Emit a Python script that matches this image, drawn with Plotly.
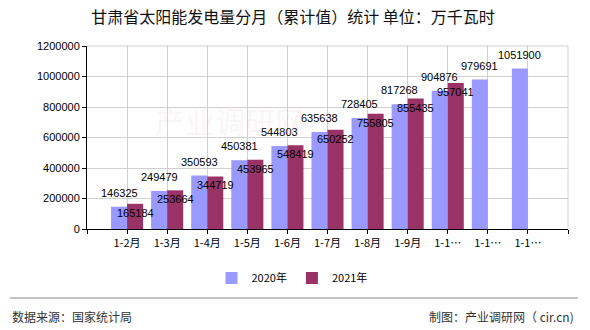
import plotly.graph_objects as go

categories = ["1-2月", "1-3月", "1-4月", "1-5月", "1-6月", "1-7月", "1-8月", "1-9月", "1-10月", "1-11月", "1-12月"]
tick_labels = ["1-2月", "1-3月", "1-4月", "1-5月", "1-6月", "1-7月", "1-8月", "1-9月", "1-1…", "1-1…", "1-1…"]
values_2020 = [146325, 249479, 350593, 450381, 544803, 635638, 728405, 817268, 904876, 979691, 1051900]
values_2021 = [165184, 253664, 344719, 453965, 548419, 650252, 755805, 855435, 957041]
y_ticks = [0, 200000, 400000, 600000, 800000, 1000000, 1200000]

W, H = 590, 330
L, R, T, B = 87, 22, 46, 101
pw = W - L - R
ph = H - T - B

def px(x):
    return (x - L) / pw

def py(y):
    return (H - B - y) / ph

font_cn = "Noto Sans CJK SC, DejaVu Sans, sans-serif"
font_num = "Liberation Sans, Arial, sans-serif"

x20 = list(range(len(values_2020)))
x21 = list(range(len(values_2021)))

fig = go.Figure()
fig.add_trace(go.Bar(x=x20, y=values_2020, name="2020年", marker_color="#9999ff",
                     marker_line_width=0, offsetgroup="a"))
fig.add_trace(go.Bar(x=x21, y=values_2021, name="2021年", marker_color="#993366",
                     marker_line_width=0, offsetgroup="b"))

for i, v in zip(x20, values_2020):
    fig.add_annotation(x=i - 0.2, y=v, text=str(v), showarrow=False, xanchor="center",
                       yanchor="bottom", yshift=6,
                       font=dict(size=11, color="#000000", family=font_num))
for i, v in zip(x21, values_2021):
    fig.add_annotation(x=i + 0.2, y=v, text=str(v), showarrow=False, xanchor="center",
                       yanchor="middle", yshift=-9,
                       font=dict(size=11, color="#000000", family=font_num))

tickvals = list(range(-1, len(categories) + 1))
ticktext = [""] + tick_labels + [""]

fig.update_layout(
    width=W, height=H,
    margin=dict(l=L, r=R, t=T, b=B, pad=0),
    paper_bgcolor="#ffffff", plot_bgcolor="#ffffff",
    font=dict(family=font_cn, size=11, color="#000000"),
    barmode="group", bargap=0.2, bargroupgap=0,
    title=dict(text="甘肃省太阳能发电量分月（累计值）统计 单位：万千瓦时",
               x=px(293), xref="paper", xanchor="center", y=1 - 17 / H, yanchor="middle",
               font=dict(size=16, color="#111111", family=font_cn)),
    xaxis=dict(range=[-1, len(categories)], tickmode="array", tickvals=tickvals, ticktext=ticktext,
               showgrid=True, gridcolor="#d0d0d0", gridwidth=1,
               showline=True, linecolor="#000000", linewidth=1,
               ticks="outside", ticklen=4, tickcolor="#000000",
               tickfont=dict(size=11, family=font_cn, color="#000000"),
               zeroline=False, fixedrange=True),
    yaxis=dict(range=[0, 1200000], tickmode="array", tickvals=y_ticks,
               ticktext=[str(v) for v in y_ticks],
               showgrid=True, gridcolor="#d0d0d0", gridwidth=1,
               showline=True, linecolor="#000000", linewidth=1,
               ticks="outside", ticklen=4, tickcolor="#000000",
               tickfont=dict(size=11, family=font_num, color="#000000"),
               zeroline=False, fixedrange=True),
    legend=dict(orientation="h", x=px(292), xanchor="center", y=py(278), yanchor="middle",
                font=dict(size=11, family=font_cn), itemwidth=30, traceorder="normal",
                bgcolor="rgba(0,0,0,0)"),
    showlegend=True,
)

# right border and top line of the frame
fig.add_shape(type="line", xref="paper", yref="paper", x0=1, x1=1, y0=0, y1=1,
              line=dict(color="#d0d0d0", width=1))
fig.add_shape(type="line", xref="paper", yref="paper", x0=0, x1=1, y0=1, y1=1,
              line=dict(color="#d0d0d0", width=1))

# footer separator
fig.add_shape(type="line", xref="paper", yref="paper", x0=px(10), x1=px(578), y0=py(298), y1=py(298),
              line=dict(color="#888888", width=1))

fig.add_annotation(text="数据来源：国家统计局", xref="paper", yref="paper", x=px(10), y=py(316),
                   xanchor="left", yanchor="middle", showarrow=False,
                   font=dict(size=12, color="#333333", family=font_cn))
fig.add_annotation(text="制图：产业调研网（ cir.cn)", xref="paper", yref="paper", x=px(576), y=py(316),
                   xanchor="right", yanchor="middle", showarrow=False,
                   font=dict(size=12, color="#333333", family=font_cn))

# faint watermark
fig.add_annotation(text="产业调研网", xref="paper", yref="paper", x=px(230), y=py(120),
                   xanchor="center", yanchor="middle", showarrow=False,
                   font=dict(size=30, color="rgba(230,200,200,0.2)", family=font_cn))

fig.write_html("out.html")
